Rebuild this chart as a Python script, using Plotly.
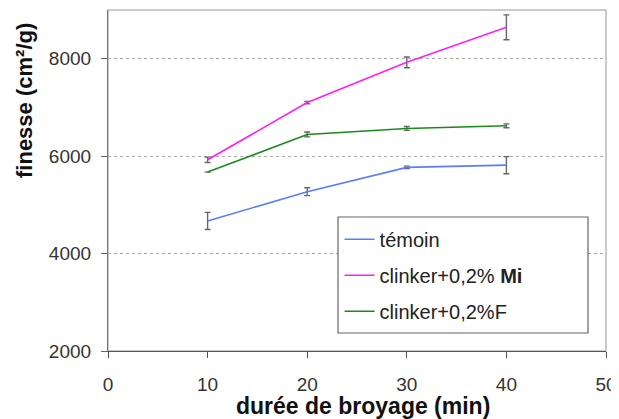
import plotly.graph_objects as go

# Data
duree = [10, 20, 30, 40]
temoin = [4670, 5270, 5770, 5815]
temoin_err = [175, 80, 25, 175]
mi = [5925, 7100, 7925, 8645]
mi_err = [55, 25, 110, 255]
f = [5672, 6445, 6568, 6623]
f_err = [0, 50, 40, 40]

names = ["témoin", "clinker+0,2% <b>Mi</b>", "clinker+0,2%F"]
colors = ["#5A7DFF", "#FF1EFF", "#1A8A1A"]
y_title = "<b>finesse (cm²/g)</b>"
x_title = "<b>durée de broyage (min)</b>"

FONT = "Liberation Sans, Arial, sans-serif"

fig = go.Figure()
for i, (ys, es) in enumerate([(temoin, temoin_err), (mi, mi_err), (f, f_err)]):
    fig.add_trace(go.Scatter(
        x=duree, y=ys, mode="lines", name=names[i],
        legendgroup=f"g{i}",
        line=dict(color=colors[i], width=1.6),
        error_y=dict(type="data", array=es, visible=True,
                     color="#666666", thickness=1.4, width=3),
    ))

fig.update_layout(
    width=619, height=411,
    margin=dict(l=100, r=21, t=2, b=68),
    paper_bgcolor="white", plot_bgcolor="white",
    font=dict(family=FONT, size=19, color="#333333"),
    showlegend=True,
    legend=dict(
        x=0.465, y=0.385, xanchor="left", yanchor="top",
        bgcolor="rgba(0,0,0,0)", borderwidth=0,
        font=dict(family=FONT, size=20, color="#222222"),
        traceorder="grouped", tracegroupgap=7,
        itemwidth=30,
    ),
    shapes=[
        dict(type="rect", xref="paper", yref="paper", x0=0, x1=1, y0=0, y1=1,
             line=dict(color="#BBBBBB", width=1.5), layer="below"),
        dict(type="rect", xref="paper", yref="paper",
             x0=(338 - 108) / 498, x1=(588 - 108) / 498,
             y0=(351 - 333) / 341, y1=(351 - 217) / 341,
             line=dict(color="#666666", width=1.2), fillcolor="white", layer="above"),
    ],
    annotations=[
        dict(text=y_title, xref="paper", yref="paper",
             x=(24 - 108) / 498, y=(351 - 101) / 341,
             xanchor="center", yanchor="middle", textangle=-90,
             showarrow=False, font=dict(family=FONT, size=22, color="#111111")),
        dict(text=x_title, xref="paper", yref="paper",
             x=(363 - 108) / 498, y=(351 - 406) / 341,
             xanchor="center", yanchor="middle",
             showarrow=False, font=dict(family=FONT, size=23, color="#111111")),
    ],
)

fig.update_xaxes(
    range=[0, 50], dtick=10, tick0=0, automargin=False,
    showline=True, linecolor="#555555", linewidth=1.2,
    ticks="outside", ticklen=6, tickcolor="#555555",
    showgrid=False, zeroline=False,
    tickfont=dict(size=19, color="#333333"),
    ticklabelstandoff=10, ticklabeloverflow="allow",
)
fig.update_yaxes(
    range=[2000, 9000], dtick=2000, tick0=2000, automargin=False,
    showline=True, linecolor="#777777", linewidth=1.2,
    ticks="outside", ticklen=6, tickcolor="#666666",
    showgrid=True, gridcolor="#AAAAAA", griddash="dot", gridwidth=1,
    zeroline=False,
    tickfont=dict(size=19, color="#333333"),
    ticklabelstandoff=6,
)

fig.write_html("out.html")
